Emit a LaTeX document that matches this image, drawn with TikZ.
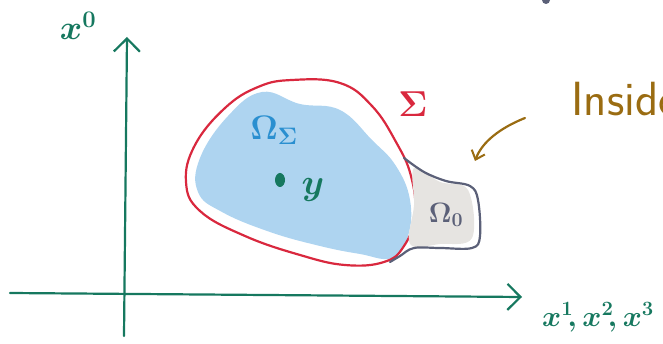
\RequirePackage{fix-cm}
\documentclass[tikz,border=0pt]{standalone}
\usepackage{tikz}
\usetikzlibrary{arrows.meta}
\usepackage{xcolor}
\usepackage{amsmath}
\definecolor{axis}{HTML}{16785F}
\definecolor{surface}{HTML}{D9283E}
\definecolor{region}{HTML}{AED4F0}
\definecolor{regionink}{HTML}{2A8FD0}
\definecolor{capink}{HTML}{5B6078}
\definecolor{capfill}{HTML}{E6E4E1}
\definecolor{note}{HTML}{9A6C12}
\tikzset{
  pen/.style={line width=2.2pt,line cap=round,line join=round},
  barb/.style={-{Straight Barb[length=13pt,width=26pt,line width=2.2pt]}}
}

\begin{document}
\begin{tikzpicture}[x=1pt,y=-1pt]
  \useasboundingbox (0,0) rectangle (663,344);
  \clip (0,0) rectangle (663,344);

  % axes
  \coordinate (xzerofoot) at (124,336);
  \coordinate (xzerotip) at (127,37);
  \coordinate (xspacefoot) at (10,293);
  \coordinate (xspacetip) at (522,297);
  \draw[axis,pen,barb] (xzerofoot) -- (xzerotip);
  \draw[axis,pen,barb] (xspacefoot) -- (xspacetip);
  \node[axis,font=\fontsize{34}{34}\selectfont\boldmath] (xzero) at (78,26) {$x^0$};
  \node[axis,anchor=base west,inner sep=0pt,font=\fontsize{29}{29}\selectfont\boldmath] (xspace) at (542,326) {$x^1\!,x^2\!,x^3$};

  % the region and its boundary
  \fill[region] plot[smooth cycle,tension=0.7] coordinates {
    (262,92) (300,104) (340,110) (372,140) (396,166) (410,200)
    (408,236) (392,258) (360,254) (320,246) (270,232) (222,212)
    (198,192) (200,158) (228,116)};
  \draw[surface,pen] plot[smooth cycle,tension=0.7] coordinates {
    (292,80) (340,83) (372,106) (396,142) (411,176) (415,215)
    (404,246) (384,262) (345,265) (300,255) (245,236) (200,211)
    (186,182) (195,145) (225,108) (258,87)};
  \node[surface,font=\fontsize{36}{36}\selectfont\boldmath] (sigma) at (413,104) {$\Sigma$};
  \node[regionink,font=\fontsize{34}{34}\selectfont\boldmath] (omegasigma) at (274,130) {$\Omega_{\Sigma}$};
  \fill[axis] (280,180) ellipse (5 and 7);
  \node[axis,font=\fontsize{36}{36}\selectfont\boldmath] (y) at (313,190) {$y$};

  % the cap
  \fill[capfill] plot[smooth cycle,tension=0.6] coordinates {
    (414,168) (440,182) (468,190) (472,238) (440,244) (410,244) (414,205)};
  \draw[capink,pen] plot[smooth,tension=0.6] coordinates {
    (404,158) (424,172) (446,181) (470,186) (478,200) (480,236)
    (472,248) (440,248) (414,248) (400,256) (390,262)};
  \node[capink,font=\fontsize{28}{28}\selectfont\boldmath] (omegazero) at (446,215) {$\Omega_0$};
  \fill[capink] (546,0) circle (4);

  % note
  \node[note,anchor=base west,font=\sffamily\fontsize{48}{48}\selectfont] (inside) at (568,116) {Inside};
  \coordinate (notestart) at (525,118);
  \coordinate (notetip) at (475,161);
  \draw[note,pen,-{Straight Barb[length=8pt,width=14pt,line width=2pt]}] (notestart) .. controls (500,128) and (482,142) .. (notetip);
\end{tikzpicture}
\end{document}
